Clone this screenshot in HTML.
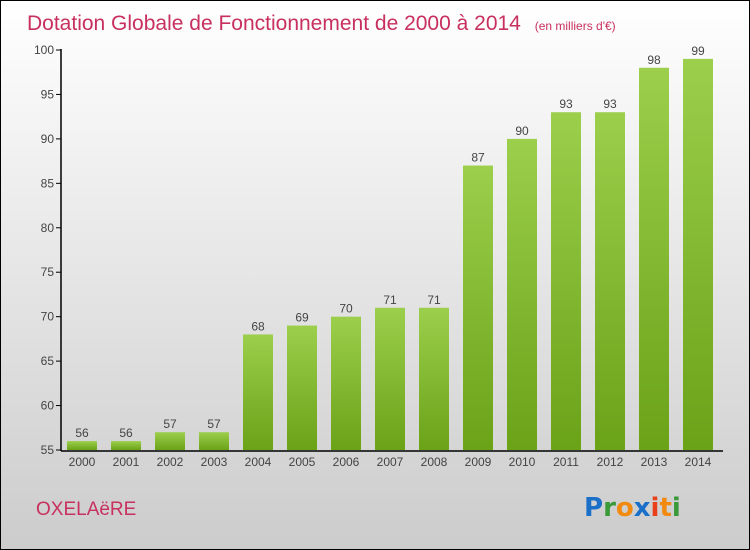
<!DOCTYPE html>
<html><head><meta charset="utf-8"><style>
body{margin:0}
#c{width:748px;height:548px;border:1px solid #000;position:relative;background:linear-gradient(#fff,#ccc);font-family:"Liberation Sans",sans-serif;overflow:hidden}
</style></head><body>
<div id="c">
<svg id="s" width="748" height="548" style="position:absolute;left:0;top:0">
<defs><linearGradient id="g" x1="0" y1="0" x2="0" y2="1"><stop offset="0" stop-color="#9ccf4c"/><stop offset="1" stop-color="#6aa218"/></linearGradient></defs>
<text x="26" y="29" font-size="21" fill="#c8305f">Dotation Globale de Fonctionnement de 2000 à 2014 <tspan font-size="12" dx="8">(en milliers d'€)</tspan></text>
<text x="35" y="514" font-size="19" fill="#c8305f">OXELAëRE</text>
<g font-size="26" font-family="'DejaVu Sans',sans-serif" font-weight="bold">
<text x="583" y="515"><tspan fill="#1a6fc9">P</tspan><tspan fill="#3a9a3a">r</tspan><tspan fill="#f28a10">o</tspan><tspan fill="#1a6fc9">x</tspan><tspan fill="#e8401a">i</tspan><tspan fill="#f28a10">t</tspan><tspan fill="#3a9a3a">i</tspan></text></g>
<g id="plot"></g>
</svg></div>
<script>
const categories=["2000","2001","2002","2003","2004","2005","2006","2007","2008","2009","2010","2011","2012","2013","2014"];
const values=[56,56,57,57,68,69,70,71,71,87,90,93,93,98,99];
const yTicks=[55,60,65,70,75,80,85,90,95,100];
const NS="http://www.w3.org/2000/svg";
const g=document.getElementById("plot");
const y=v=>449-(v-55)*(400/45);
const x=i=>81+i*44;
function el(t,a,txt){const e=document.createElementNS(NS,t);for(const k in a)e.setAttribute(k,a[k]);if(txt!=null)e.textContent=txt;g.appendChild(e);return e;}
yTicks.forEach(t=>{
 const l=el("line",{x1:55,x2:60,y1:y(t),y2:y(t),stroke:"#000"});
 
 
 const tx=el("text",{x:53,y:y(t)+4,"text-anchor":"end","font-size":12,fill:"#444"},t);
 
 
});
values.forEach((v,i)=>{
 const b=el("rect",{x:x(i)-15,y:y(v),width:30,height:y(55)-y(v),fill:"url(#g)"});
 
 
 const lb=el("text",{x:x(i),y:y(v)-4,"text-anchor":"middle","font-size":12,fill:"#444"},v);
 
 
 const cl=el("text",{x:x(i),y:465,"text-anchor":"middle","font-size":12,fill:"#444"},categories[i]);
 
 
});
const ya=el("line",{x1:60,x2:60,y1:y(100)-1,y2:450,stroke:"#000","stroke-width":1.5});


const xa=el("line",{x1:60,x2:722,y1:450,y2:450,stroke:"#000","stroke-width":1.5});


</script>
</body></html>
